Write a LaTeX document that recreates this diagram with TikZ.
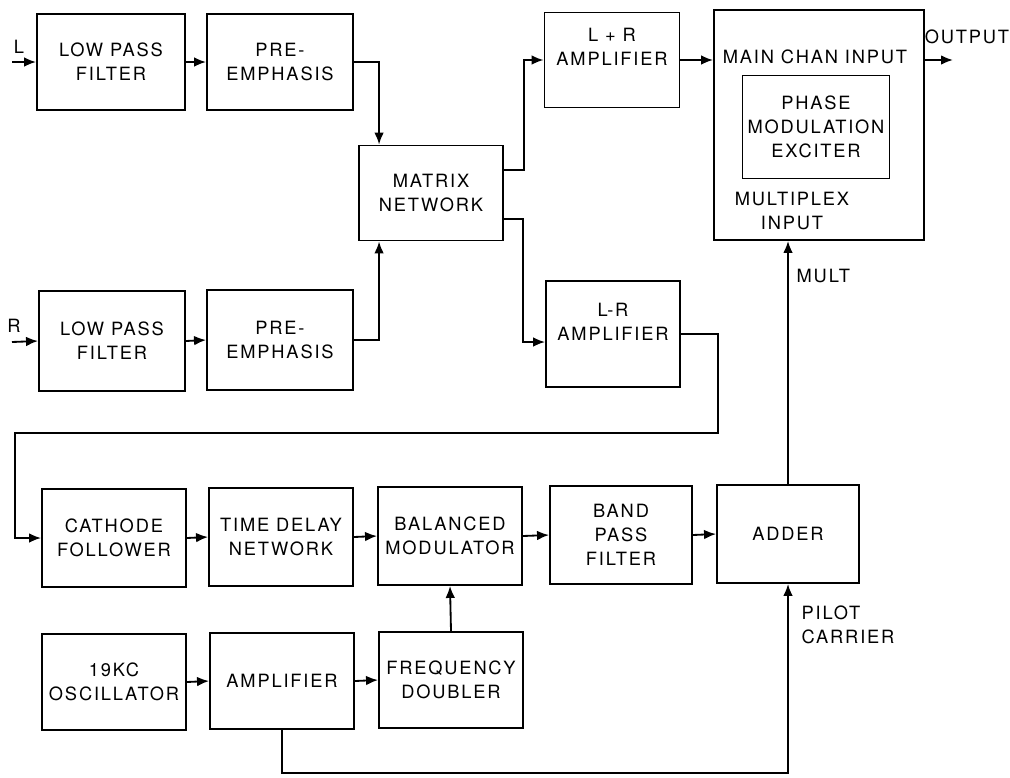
\documentclass[tikz,border=0pt]{standalone}
\usepackage{fontspec}
\setmainfont[LetterSpace=10]{TeX Gyre Heros}
\usetikzlibrary{arrows.meta,positioning,calc}

\begin{document}
\begin{tikzpicture}[
  x=0.025cm, y=-0.025cm,
  font=\fontsize{13}{17}\selectfont,
  every node/.style={align=center},
  box/.style={draw=black, line width=1.3pt, rectangle, inner sep=2pt, minimum width=3.6cm, minimum height=2.4cm},
  bigbox/.style={box, minimum width=5.25cm, minimum height=5.75cm},
  lbl/.style={inner sep=1pt},
  arr/.style={-{Latex[length=3mm, width=2.4mm]}, line width=1.3pt}
]
\fill[white] (0,0) rectangle (1010,777);
\useasboundingbox (0,0) rectangle (1010,777);

% Left channel
\coordinate (inL) at (12,62);
\node[lbl] (txtL) at (19,47) {L};
\node[box, minimum width=3.7cm] (lpfL) at (111,62) {LOW PASS\\FILTER};
\node[box, minimum width=3.65cm] (preL) at (280,62) {PRE-\\EMPHASIS};
\draw[arr] (inL) -- (lpfL.west);
\draw[arr] (lpfL.east) -- (preL.west);

% Right channel
\coordinate (inR) at (12,342);
\node[lbl] (txtR) at (14,326) {R};
\node[box, minimum width=3.65cm, minimum height=2.5cm] (lpfR) at (112,341) {LOW PASS\\FILTER};
\node[box, minimum width=3.65cm, minimum height=2.5cm] (preR) at (280,340) {PRE-\\EMPHASIS};
\draw[arr] (inR) -- (lpfR.west);
\draw[arr] (lpfR.east) -- (preR.west);

% Matrix and sum / difference amplifiers
\node[box, minimum height=2.375cm] (matrix) at (431,193) {MATRIX\\NETWORK};
\node[box, minimum width=3.375cm, minimum height=2.375cm] (lrsum) at (612,60) {};
\node[lbl] (txtsum) at ($(lrsum)+(0,-13)$) {L + R\\AMPLIFIER};
\node[box, minimum width=3.35cm, minimum height=2.65cm] (lrdiff) at (613,334) {};
\node[lbl] (txtdiff) at ($(lrdiff)+(0,-12)$) {L-R\\AMPLIFIER};
\draw[arr] (preL.east) -| ($(matrix.north west)+(21,0)$);
\draw[arr] (preR.east) -| ($(matrix.south west)+(21,0)$);
\draw[arr] ($(matrix.east)+(0,-23)$) -- ++(20,0) |- (lrsum.west);
\draw[arr] ($(matrix.east)+(0,26)$) -- ++(19,0) |- ($(lrdiff.west)+(0,8)$);

% Exciter
\node[bigbox] (exciter) at (819,125) {};
\node[box, minimum width=3.675cm, minimum height=2.575cm] (pme) at (816,127) {PHASE\\MODULATION\\EXCITER};
\node[lbl] (mainin) at (815,57) {MAIN CHAN INPUT};
\node[lbl] (muxin) at (792,211) {MULTIPLEX\\INPUT};
\draw[arr] (lrsum.east) -- (lrsum.east -| exciter.west);
\coordinate (out) at (953,60);
\draw[arr] (exciter.east |- lrsum.east) -- (out);
\node[lbl] (txtout) at (967,37) {OUTPUT};

% Multiplex chain
\node[box, minimum height=2.45cm] (cathode) at (114,538) {CATHODE\\FOLLOWER};
\node[box, minimum height=2.45cm] (delay) at (281,537) {TIME DELAY\\NETWORK};
\node[box, minimum height=2.45cm] (balmod) at (450,536) {BALANCED\\MODULATOR};
\node[box, minimum width=3.55cm, minimum height=2.45cm] (bpf) at (621,535) {BAND\\PASS\\FILTER};
\node[box, minimum width=3.55cm, minimum height=2.45cm] (adder) at (788,534) {ADDER};
\draw[arr] (lrdiff.east) -- ++(37,0) |- (15,433) |- (cathode.west);
\draw[arr] (cathode.east) -- (delay.west);
\draw[arr] (delay.east) -- (balmod.west);
\draw[arr] (balmod.east) -- (bpf.west);
\draw[arr] (bpf.east) -- (adder.west);
\draw[arr] (adder.north) -- (adder.north |- exciter.south);
\node[lbl, anchor=west] (txtmult) at (795,276) {MULT};

% Pilot carrier
\node[box] (osc) at (114,682) {19KC\\OSCILLATOR};
\node[box] (amp) at (282,681) {AMPLIFIER};
\node[box] (doubler) at (451,680) {FREQUENCY\\DOUBLER};
\draw[arr] (osc.east) -- (amp.west);
\draw[arr] (amp.east) -- (doubler.west);
\draw[arr] (doubler.north) -- (balmod.south);
\draw[arr] (amp.south) -- ++(0,43) -| (adder.south);
\node[lbl, anchor=west, align=left] (txtpilot) at (800,625) {PILOT\\CARRIER};

\end{tikzpicture}
\end{document}
